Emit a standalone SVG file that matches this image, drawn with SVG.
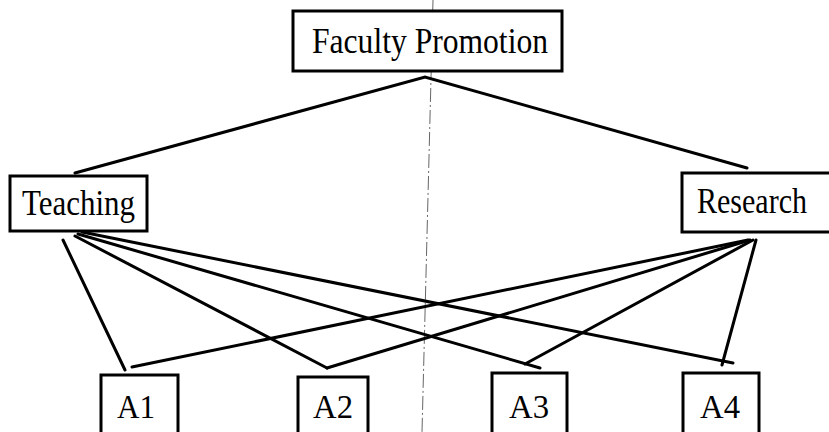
<svg xmlns="http://www.w3.org/2000/svg" width="829" height="432" viewBox="0 0 829 432">
<style>
.box{fill:#fff;stroke:#000;stroke-width:3}
.t{font-family:"Liberation Serif","Times New Roman",serif;font-size:35px;fill:#000}
.a{font-size:33px}
.c{stroke:#000;stroke-width:3;fill:none;stroke-linecap:round}
.fold{stroke:#666;stroke-width:1;stroke-dasharray:14 3 2 3;fill:none}
</style>
<rect width="829" height="432" fill="#fff"/>
<line class="fold" x1="433" y1="0" x2="422" y2="432"/>
<g id="connectors">
<polyline class="c" points="75,173 425,77 747,168"/>
<line class="c" x1="63" y1="240" x2="125" y2="370"/>
<line class="c" x1="75" y1="236" x2="327" y2="368"/>
<line class="c" x1="78" y1="234" x2="540" y2="368"/>
<line class="c" x1="82" y1="232" x2="733" y2="363"/>
<line class="c" x1="748" y1="240" x2="132" y2="367"/>
<line class="c" x1="750" y1="240" x2="327" y2="368"/>
<line class="c" x1="753" y1="240" x2="525" y2="364"/>
<line class="c" x1="756" y1="240" x2="722" y2="365"/>
</g>
<g id="faculty-promotion">
<rect class="box" x="293" y="11" width="269" height="60"/>
<text class="t" x="312" y="53" textLength="236" lengthAdjust="spacingAndGlyphs">Faculty Promotion</text>
</g>
<g id="teaching">
<rect class="box" x="10" y="176" width="137" height="55"/>
<text class="t" x="22" y="215" textLength="113" lengthAdjust="spacingAndGlyphs">Teaching</text>
</g>
<g id="research">
<rect class="box" x="682" y="173" width="160" height="59"/>
<text class="t" x="697" y="213" textLength="110" lengthAdjust="spacingAndGlyphs">Research</text>
</g>
<g id="a1">
<rect class="box" x="101" y="375" width="77" height="70"/>
<text class="t a" x="117" y="418" textLength="38" lengthAdjust="spacingAndGlyphs">A1</text>
</g>
<g id="a2">
<rect class="box" x="298" y="377" width="70" height="70"/>
<text class="t a" x="313" y="418" textLength="40" lengthAdjust="spacingAndGlyphs">A2</text>
</g>
<g id="a3">
<rect class="box" x="492" y="373" width="75" height="70"/>
<text class="t a" x="509" y="418" textLength="40" lengthAdjust="spacingAndGlyphs">A3</text>
</g>
<g id="a4">
<rect class="box" x="683" y="373" width="76" height="70"/>
<text class="t a" x="700" y="418" textLength="40" lengthAdjust="spacingAndGlyphs">A4</text>
</g>
</svg>
